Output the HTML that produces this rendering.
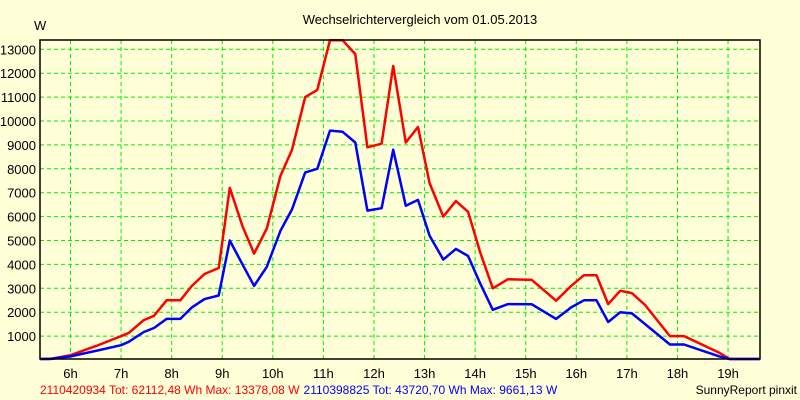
<!DOCTYPE html>
<html><head><meta charset="utf-8"><style>
body{margin:0;background:#ffffd8;}
svg{display:block;font-family:"Liberation Sans",sans-serif;}
</style></head><body>
<svg id="c" width="800" height="400">
<rect width="800" height="400" fill="#ffffd8"/>
<text x="420" y="24" font-size="13" text-anchor="middle">Wechselrichtervergleich vom 01.05.2013</text>
<text x="34" y="30" font-size="13">W</text>
<g id="grid"></g><g id="series"></g><g id="axes"></g>
<text x="40" y="394" font-size="12"><tspan fill="#ff0000">2110420934 Tot: 62112,48 Wh Max: 13378,08 W</tspan><tspan fill="#0000ff" dx="4">2110398825 Tot: 43720,70 Wh Max: 9661,13 W</tspan></text>
<text x="797" y="394" font-size="12" text-anchor="end">SunnyReport pinxit</text>
</svg>
<script>
const hours=[5.4,5.6,6,6.5,7,7.15,7.45,7.65,7.9,8.17,8.4,8.65,8.93,9.15,9.4,9.63,9.88,10.15,10.38,10.64,10.88,11.13,11.38,11.63,11.87,12.15,12.38,12.63,12.87,13.1,13.37,13.62,13.86,14.1,14.35,14.65,15.12,15.6,15.9,16.15,16.4,16.63,16.87,17.1,17.36,17.85,18.13,18.83,19.03,19.63];
const redValues=[0,50,200,580,1000,1130,1670,1850,2500,2500,3100,3600,3850,7200,5600,4450,5500,7700,8800,11000,11300,13380,13380,12800,8900,9050,12300,9100,9750,7400,6000,6650,6200,4500,3000,3380,3350,2480,3100,3550,3550,2340,2900,2800,2300,1000,1000,300,0,0];
const blueValues=[0,40,150,380,620,760,1170,1340,1720,1720,2200,2550,2700,5000,4000,3100,3900,5400,6300,7850,8000,9600,9550,9100,6250,6350,8800,6450,6700,5200,4200,4650,4350,3200,2100,2340,2330,1720,2200,2500,2500,1590,2000,1950,1500,650,650,150,0,0];
const yTicks=[1000,2000,3000,4000,5000,6000,7000,8000,9000,10000,11000,12000,13000];
const xTicks=[6,7,8,9,10,11,12,13,14,15,16,17,18,19];
const NS="http://www.w3.org/2000/svg";
const L=40,R=760,T=40,B=359;
const xs=h=>70.5+(h-6)*50.58;
const ys=v=>360-v*0.0239;
function mk(tag,attrs,parent){const e=document.createElementNS(NS,tag);for(const k in attrs)e.setAttribute(k,attrs[k]);parent.appendChild(e);return e;}
const grid=document.getElementById('grid'),axes=document.getElementById('axes'),ser=document.getElementById('series');
yTicks.forEach(v=>{
 const y=ys(v);
 const l=mk('line',{x1:L,x2:R,y1:y,y2:y,stroke:'#00ee00','stroke-dasharray':'4,3'},grid);
 
 
 const t=mk('text',{x:36,y:y+5,'font-size':13,'text-anchor':'end'},axes);
 t.textContent=v;
 
 
});
xTicks.forEach(h=>{
 const x=xs(h);
 const l=mk('line',{x1:x,x2:x,y1:T,y2:B,stroke:'#00ee00','stroke-dasharray':'4,3'},grid);
 
 
 const t=mk('text',{x:x,y:378,'font-size':13,'text-anchor':'middle'},axes);
 t.textContent=h+'h';
 
 
});
const frame=mk('rect',{x:L,y:T,width:R-L,height:B-T,fill:'none',stroke:'#000','stroke-width':1.5},axes);


function line(vals,color,name){
 const pts=hours.map((h,i)=>xs(h).toFixed(1)+','+Math.min(B,ys(vals[i])).toFixed(1)).join(' ');
 const p=mk('polyline',{points:pts,fill:'none',stroke:color,'stroke-width':2.5,'stroke-linejoin':'round'},ser);
 
 
}
line(redValues,'#ff0000','series-2110420934');
line(blueValues,'#0000ff','series-2110398825');
</script>
</body></html>
